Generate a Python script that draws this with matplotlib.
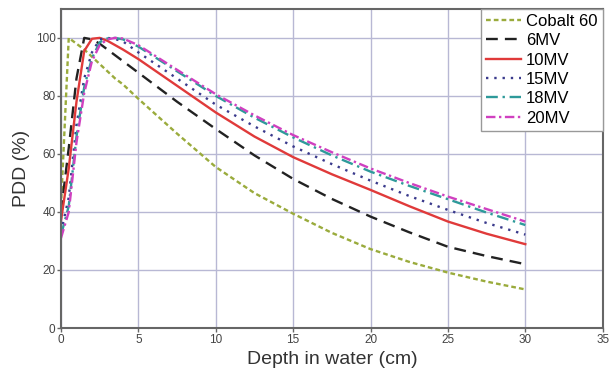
import matplotlib
matplotlib.use("Agg")
import matplotlib.pyplot as plt

plt.rcParams["font.family"] = ["Liberation Sans", "DejaVu Sans"]

# depth in water (cm)
depth = [0, 0.5, 1, 1.5, 2, 2.5, 3, 3.5, 4, 5, 7.5, 10, 12.5, 15, 17.5, 20, 22.5, 25, 27.5, 30]

# percentage depth dose (%)
cobalt60 = [42, 100, 98, 96, 93.5, 91, 88.5, 86, 84, 79, 67, 55.5, 46.5, 39.4, 32.8, 27.2, 22.8, 19.1, 16, 13.3]
mv6 = [40, 62, 86, 100, 99.5, 98, 96, 94, 92, 88, 78, 68.6, 59.5, 51.4, 44.5, 38.4, 33, 28, 24.8, 22]
mv10 = [37, 55, 78, 95.5, 99.7, 100, 99, 97.5, 96, 92.7, 83.5, 74.3, 66, 58.9, 53, 47.6, 42, 36.7, 32.5, 28.9]
mv15 = [33, 45, 70, 86, 95, 99.5, 100, 99.6, 98.8, 95, 86, 77, 69.5, 62.6, 56.5, 50.8, 45.5, 40.7, 36.2, 32.2]
mv18 = [32, 42, 66, 83, 93, 98.5, 99.8, 100, 99.5, 97, 88.5, 80, 72.5, 65.7, 59.5, 53.9, 49, 44.4, 39.8, 35.5]
mv20 = [31, 40, 64, 81, 92, 97.5, 99.5, 100, 99.8, 97.5, 89, 80.6, 73.3, 66.5, 60.6, 55, 50, 45.3, 41, 36.7]

series = [
    ("Cobalt 60", cobalt60, "#9aab3c", (0, (2, 1.3))),
    ("6MV", mv6, "#222222", (0, (5, 3))),
    ("10MV", mv10, "#e03a3a", "-"),
    ("15MV", mv15, "#3a3a8c", (0, (1, 2.5))),
    ("18MV", mv18, "#2e9a9a", (0, (5, 2, 1, 2))),
    ("20MV", mv20, "#d040c0", (0, (4, 1.5, 1, 1.5))),
]

fig = plt.figure(figsize=(6.1, 3.75), dpi=100)
ax = fig.add_axes([0.1, 0.1253, 0.888, 0.851])

for nombre, valores, color, estilo in series:
    ax.plot(depth, valores, color=color, linestyle=estilo, linewidth=1.7, label=nombre)

ax.set_xlim(0, 35)
ax.set_ylim(0, 110)
ax.set_xticks(range(0, 36, 5))
ax.set_yticks(range(0, 101, 20))
ax.grid(True, color="#b8b8d4", linewidth=1)
ax.set_axisbelow(True)

for lado in ax.spines.values():
    lado.set_color("#666666")
    lado.set_linewidth(1.5)
ax.tick_params(direction="out", length=3, width=1, color="#666666",
               labelsize=8.5, labelcolor="#444444", pad=1)

ax.set_xlabel("Depth in water (cm)", fontsize=14, color="#333333", labelpad=4)
ax.set_ylabel("PDD (%)", fontsize=14, color="#333333", labelpad=4)

leg = ax.legend(loc="upper right", borderaxespad=0, fontsize=12, fancybox=False,
                framealpha=1, edgecolor="#999999", handlelength=2.1,
                handletextpad=0.3, labelspacing=0.26, borderpad=0.3)
leg.get_frame().set_linewidth(1)

fig.savefig("out.png", dpi=100)
